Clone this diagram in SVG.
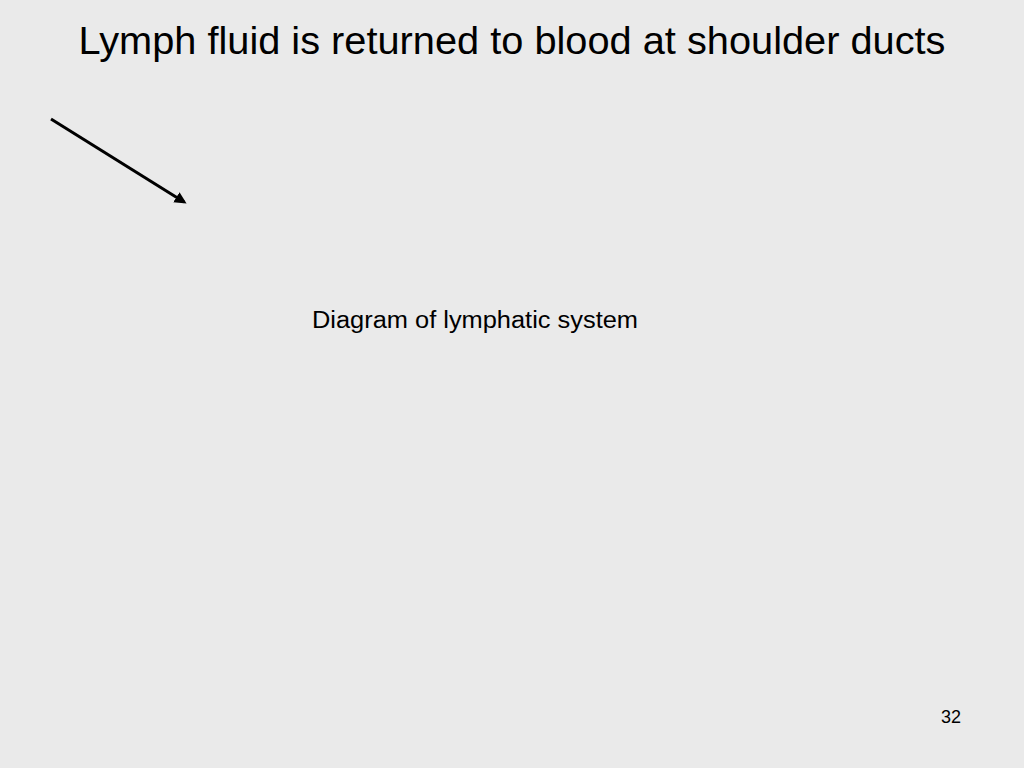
<svg xmlns="http://www.w3.org/2000/svg" width="1024" height="768" viewBox="0 0 1024 768">
<defs><marker id="ah" markerWidth="4" markerHeight="4" refX="3" refY="2" orient="auto" markerUnits="strokeWidth"><path d="M0,0 L4,2 L0,4 Z" fill="#000"/></marker></defs>
<style>text{font-family:"Liberation Sans",Arial,sans-serif;fill:#000}</style>
<rect width="1024" height="768" fill="#eaeaea"/>
<text x="512" y="54" font-size="38" text-anchor="middle" textLength="867" lengthAdjust="spacingAndGlyphs">Lymph fluid is returned to blood at shoulder ducts</text>
<g id="connectors"><line x1="51" y1="119" x2="184" y2="202" stroke="#000" stroke-width="3" marker-end="url(#ah)"/></g>
<g id="label"><text x="312" y="328" font-size="23" textLength="326" lengthAdjust="spacingAndGlyphs">Diagram of lymphatic system</text></g>
<text x="951" y="723" font-size="18" text-anchor="middle">32</text>
</svg>
